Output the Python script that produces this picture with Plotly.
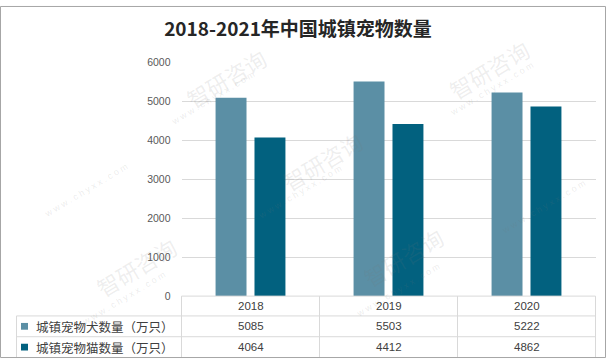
import plotly.graph_objects as go

years = ["2018", "2019", "2020"]
dogs = [5085, 5503, 5222]
cats = [4064, 4412, 4862]
series_names = ["城镇宠物犬数量（万只）", "城镇宠物猫数量（万只）"]
title = "2018-2021年中国城镇宠物数量"

dog_color = "#5B8FA5"
cat_color = "#02617F"
grid_color = "#D9D9D9"
W, H = 606, 364

def px(x):
    return x / W

def py(y):
    return 1 - y / H

fig = go.Figure()
fig.add_trace(go.Bar(x=years, y=dogs, name=series_names[0], marker=dict(color=dog_color, line=dict(width=0))))
fig.add_trace(go.Bar(x=years, y=cats, name=series_names[1], marker=dict(color=cat_color, line=dict(width=0))))

# ---- data table drawn with shapes + annotations ----
x_left, x_plot, x_right = 16.5, 181.5, 595.5
y_hdr, y_r1, y_r2, y_bot = 300, 320.5, 342, 363.5
col_w = (x_right - x_plot) / 3
shapes = []

def hline(x0, x1, y):
    shapes.append(dict(type="line", xref="paper", yref="paper", x0=px(x0), x1=px(x1), y0=py(y), y1=py(y),
                       line=dict(color=grid_color, width=1)))

def vline(x, y0, y1):
    shapes.append(dict(type="line", xref="paper", yref="paper", x0=px(x), x1=px(x), y0=py(y0), y1=py(y1),
                       line=dict(color=grid_color, width=1)))

hline(x_plot, x_right, y_hdr)
hline(x_left, x_right, y_r1)
hline(x_left, x_right, y_r2)
hline(x_left, x_right, y_bot)
vline(x_left, y_r1, y_bot)
for i in range(4):
    vline(x_plot + i * col_w, y_hdr, y_bot)

annotations = []
num_font = dict(family="Liberation Sans, Arial", size=11.5, color="#404040")
row_centers = [(y_hdr + y_r1) / 2, (y_r1 + y_r2) / 2, (y_r2 + y_bot) / 2]
for j, yr in enumerate(years):
    for text, yc in zip([yr, str(dogs[j]), str(cats[j])], row_centers):
        annotations.append(dict(x=j, xref="x", y=py(yc), yref="paper", text=text, showarrow=False,
                                font=num_font, xanchor="center", yanchor="middle"))

for name, color, yc in zip(series_names, [dog_color, cat_color], row_centers[1:]):
    shapes.append(dict(type="rect", xref="paper", yref="paper", x0=px(21), x1=px(28), y0=py(yc + 3.5),
                       y1=py(yc - 3.5), fillcolor=color, line=dict(width=0)))
    annotations.append(dict(x=px(34), xref="paper", y=py(yc), yref="paper", text=name, showarrow=False,
                            font=dict(family="Noto Sans CJK SC", size=12.5, color="#404040"),
                            xanchor="left", yanchor="middle"))

# ---- faint watermarks ----
wm_text = [(226, 34), (538, 25), (322, 160), (87, 310), (403, 300)]
wm_url = [(213, 62), (538, 53), (300, 192), (40, 190), (78, 335), (398, 326), (590, 208)]
for (x, y) in wm_text:
    annotations.append(dict(x=px(x), y=py(y), xref="paper", yref="paper", text="智研咨询", showarrow=False,
                            textangle=-31, font=dict(family="Noto Sans CJK SC", size=22,
                                                     color="rgba(120,120,120,0.13)")))
for (x, y) in wm_url:
    annotations.append(dict(x=px(x), y=py(y), xref="paper", yref="paper", text="w w w . c h y x x . c o m",
                            showarrow=False, textangle=-31,
                            font=dict(family="Liberation Sans", size=9, color="rgba(120,120,120,0.15)")))

# outer border
shapes.append(dict(type="rect", xref="paper", yref="paper", x0=px(0.5), x1=px(605.5), y0=py(363.5), y1=py(0.5),
                   line=dict(color="#A6A6A6", width=1)))

fig.update_layout(
    width=W, height=H,
    margin=dict(l=0, r=0, t=0, b=0),
    paper_bgcolor="white", plot_bgcolor="white",
    showlegend=False,
    bargap=0.436, bargroupgap=0.205,
    title=dict(text=f"<b>{title}</b>", x=298 / W, xanchor="center", y=py(29), yanchor="middle",
               font=dict(family="Noto Sans CJK SC", size=19, color="#262626")),
    xaxis=dict(type="category", range=[-0.5, 2.5], domain=[px(x_plot), px(x_right)], showticklabels=False,
               showgrid=False, zeroline=False, showline=False, ticks=""),
    yaxis=dict(domain=[py(y_hdr), py(58)], range=[0, 6000], dtick=1000,
               showgrid=True, gridcolor=grid_color, gridwidth=1, zeroline=False, showline=False,
               tickfont=dict(family="Liberation Sans, Arial", size=10.5, color="#595959"), ticks="",
               ticklabelstandoff=10),
    shapes=shapes,
    annotations=annotations,
)

fig.write_html("out.html", config={"displayModeBar": False},
               post_script="document.body.style.margin='0';document.body.style.overflow='hidden';")
